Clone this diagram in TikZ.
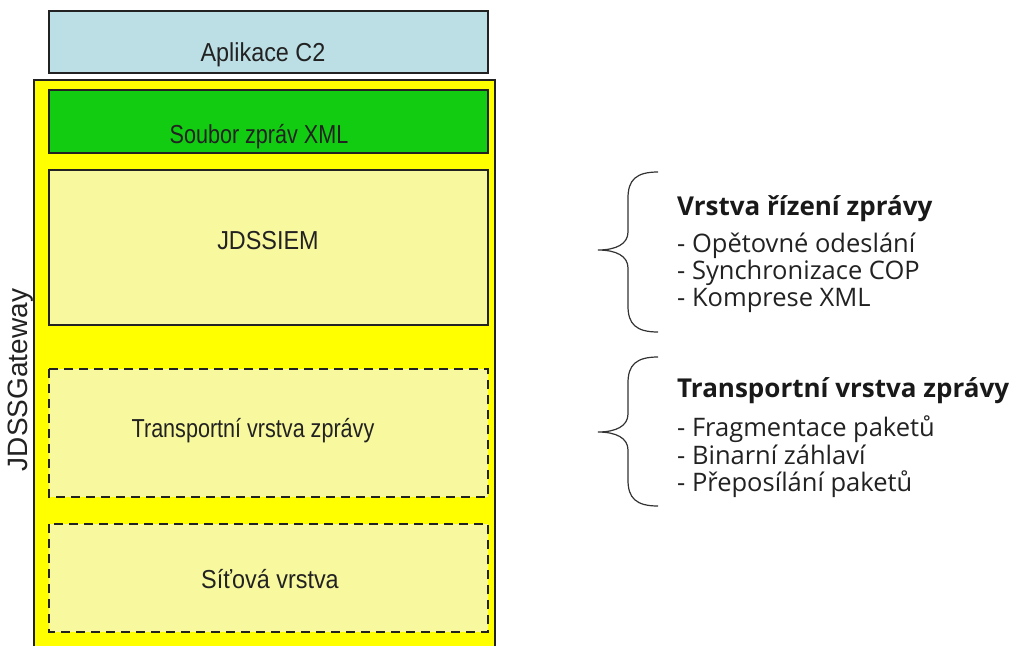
\documentclass[tikz,border=0pt]{standalone}
\usepackage{fontspec}
\setmainfont{Liberation Sans}
\newfontfamily\boxfont[FakeStretch=0.9]{Liberation Sans}
\newfontfamily\narrowboxfont[FakeStretch=0.83]{Liberation Sans}
\newfontfamily\notefont{Open Sans}
\definecolor{appblue}{HTML}{BCDFE6}
\definecolor{xmlgreen}{HTML}{12CC12}
\definecolor{gwyellow}{HTML}{FFFF00}
\definecolor{layeryellow}{HTML}{F8F89E}
\definecolor{inkgray}{HTML}{222222}
\definecolor{bracegray}{HTML}{333333}
\tikzset{
  layerbox/.style={draw=inkgray, line width=1.4pt, fill=layeryellow},
  dashbox/.style={layerbox, dash pattern=on 9pt off 6pt},
  boxlabel/.style={anchor=base, inner sep=0pt, font=\boxfont\fontsize{26}{30}\selectfont, text=inkgray},
  tightlabel/.style={boxlabel, font=\narrowboxfont\fontsize{26}{30}\selectfont},
  notehead/.style={anchor=base west, inner sep=0pt, font=\notefont\bfseries\fontsize{26}{30}\selectfont, text=black!90},
  noteitem/.style={anchor=base west, inner sep=0pt, font=\notefont\fontsize{25.5}{30}\selectfont, text=inkgray},
  brace/.style={draw=bracegray, line width=1.2pt}
}
\begin{document}
\begin{tikzpicture}[x=1pt, y=-1pt]
\useasboundingbox (0,0) rectangle (1014,646);
\fill[white] (0,0) rectangle (1014,646);

% application layer above the gateway
\draw[draw=inkgray, line width=1.4pt, fill=appblue] (49,11) rectangle (488,73);
\node[boxlabel] (app) at (263,61) {Aplikace C2};

% gateway frame, open at the bottom edge
\fill[gwyellow] (34,80) rectangle (495,646);
\draw[inkgray, line width=1.4pt] (34,646) -- (34,80) -- (495,80) -- (495,646);
\node[anchor=center, rotate=90, inner sep=0pt, font=\fontsize{28}{32}\selectfont, text=inkgray] (gw) at (21,380) {JDSSGateway};

% layers inside the gateway
\draw[draw=inkgray, line width=1.4pt, fill=xmlgreen] (49,90) rectangle (488,153);
\node[tightlabel] (xml) at (259,143) {Soubor zpráv XML};

\draw[layerbox] (49,170) rectangle (488,325);
\node[boxlabel] (iem) at (268,249) {JDSSIEM};

\draw[dashbox] (49,369) rectangle (488,497);
\node[tightlabel] (tl) at (253,437) {Transportní vrstva zprávy};

\draw[dashbox] (49,524) rectangle (488,632);
\node[boxlabel] (net) at (270,588) {Síťová vrstva};

% braces
\coordinate (b1top) at (658,172);
\coordinate (b1tip) at (598,250);
\coordinate (b1bot) at (658,332);
\draw[brace] (b1top) .. controls (636,172) and (628,180) .. (628,198)
  -- (628,232) .. controls (628,244) and (616,250) .. (b1tip)
  .. controls (616,250) and (628,256) .. (628,268)
  -- (628,306) .. controls (628,324) and (636,332) .. (b1bot);

\coordinate (b2top) at (658,357);
\coordinate (b2tip) at (598,432);
\coordinate (b2bot) at (658,506);
\draw[brace] (b2top) .. controls (636,357) and (628,365) .. (628,383)
  -- (628,414) .. controls (628,426) and (616,432) .. (b2tip)
  .. controls (616,432) and (628,438) .. (628,450)
  -- (628,480) .. controls (628,498) and (636,506) .. (b2bot);

% message control layer notes
\node[notehead] (h1) at (677,215) {Vrstva řízení zprávy};
\node[noteitem] (h1a) at (677,252) {- Opětovné odeslání};
\node[noteitem] (h1b) at (677,279) {- Synchronizace COP};
\node[noteitem] (h1c) at (677,306) {- Komprese XML};

% transport layer notes
\node[notehead] (h2) at (677,397) {Transportní vrstva zprávy};
\node[noteitem] (h2a) at (677,436) {- Fragmentace paketů};
\node[noteitem] (h2b) at (677,464) {- Binarní záhlaví};
\node[noteitem] (h2c) at (677,491) {- Přeposílání paketů};
\end{tikzpicture}
\end{document}
